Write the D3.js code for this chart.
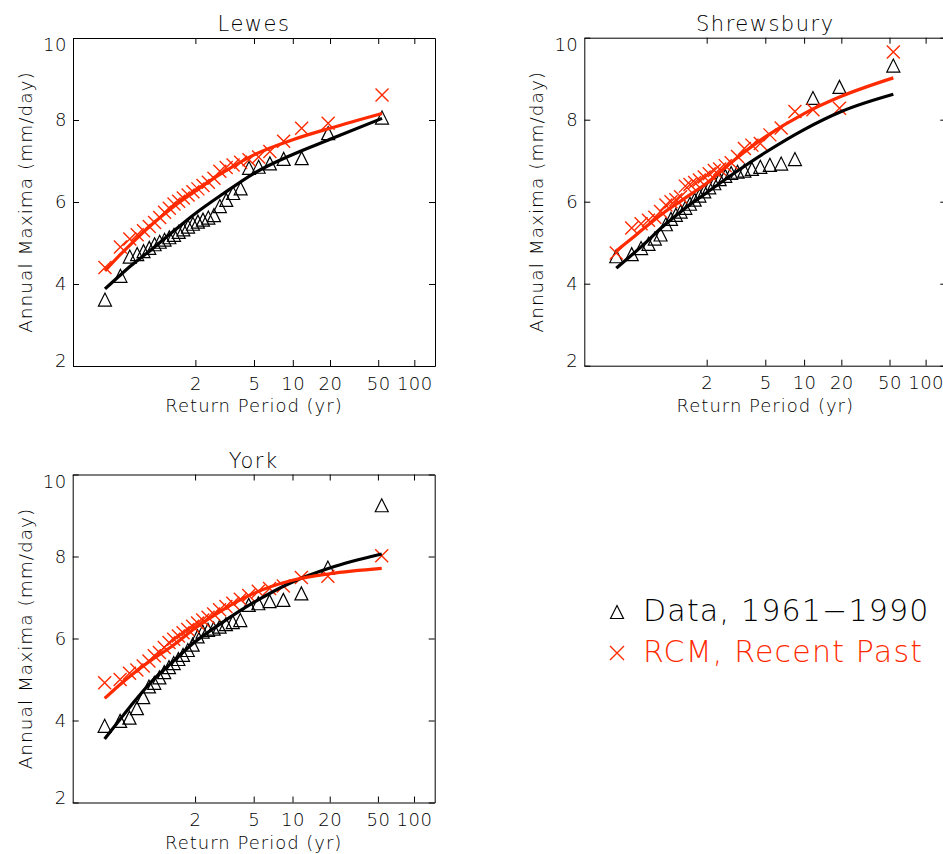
<!DOCTYPE html>
<html>
<head>
<meta charset="utf-8">
<script src="https://cdn.jsdelivr.net/npm/d3@7"></script>
<style>
  body { margin: 0; background: #fff; }
  svg { display: block; font-family: "DejaVu Sans", sans-serif; font-weight: 200; }
  .axis path, .axis line { stroke: #000; stroke-width: 1; }
  .axis text { font-family: "DejaVu Sans", sans-serif; font-weight: 200; font-size: 18px; fill: #000; letter-spacing: 0.5px; }
</style>
</head>
<body>
<script>
//return periods of the 30 ranked annual maxima (plotting positions)
var returnPeriods = [1.019, 1.055, 1.093, 1.134, 1.178, 1.226, 1.278, 1.335, 1.397, 1.465,
  1.540, 1.623, 1.715, 1.819, 1.936, 2.069, 2.221, 2.398, 2.606, 2.852,
  3.151, 3.519, 3.984, 4.591, 5.417, 6.605, 8.461, 11.77, 19.31, 53.79];

//return periods where the fitted curves were read
var fitPeriods = [1.019, 1.055, 1.1, 1.25, 1.5, 2, 3, 5, 10, 20, 53.79];

var lewesData = [3.62, 4.20, 4.67, 4.73, 4.80, 4.88, 4.97, 5.03, 5.08, 5.14, 5.20, 5.27, 5.33, 5.40, 5.47,
  5.52, 5.57, 5.62, 5.68, 5.90, 6.05, 6.22, 6.33, 6.83, 6.86, 6.94, 7.05, 7.07, 7.68, 8.06];
var lewesRcm = [4.40, 4.90, 5.10, 5.20, 5.30, 5.40, 5.50, 5.62, 5.75, 5.85, 5.95, 6.02, 6.10, 6.17, 6.25,
  6.32, 6.40, 6.48, 6.58, 6.75, 6.84, 6.90, 6.97, 7.03, 7.10, 7.23, 7.48, 7.80, 7.92, 8.61];
var lewesDataFit = [3.88, 4.22, 4.45, 4.85, 5.25, 5.72, 6.20, 6.70, 7.16, 7.53, 8.04];
var lewesRcmFit = [4.32, 4.72, 4.98, 5.45, 5.85, 6.27, 6.72, 7.15, 7.52, 7.80, 8.16];

var shrewsburyData = [4.67, 4.72, 4.87, 4.97, 5.10, 5.20, 5.45, 5.58, 5.68, 5.76, 5.85, 5.95, 6.05, 6.15, 6.25,
  6.35, 6.45, 6.55, 6.63, 6.70, 6.73, 6.76, 6.80, 6.85, 6.90, 6.93, 7.04, 8.53, 8.80, 9.32];
var shrewsburyRcm = [4.75, 5.36, 5.46, 5.55, 5.62, 5.76, 5.92, 6.00, 6.05, 6.12, 6.38, 6.42, 6.47, 6.53, 6.60,
  6.68, 6.76, 6.80, 6.88, 6.95, 7.10, 7.30, 7.38, 7.42, 7.63, 7.80, 8.20, 8.24, 8.28, 9.65];
var shrewsburyDataFit = [4.38, 4.70, 4.93, 5.40, 5.80, 6.22, 6.70, 7.20, 7.76, 8.20, 8.62];
var shrewsburyRcmFit = [4.80, 5.10, 5.32, 5.72, 6.05, 6.45, 7.02, 7.58, 8.15, 8.57, 9.02];

var yorkData = [3.87, 3.99, 4.07, 4.30, 4.57, 4.83, 4.92, 5.05, 5.18, 5.30, 5.40, 5.50, 5.60, 5.72, 5.85,
  6.05, 6.17, 6.21, 6.24, 6.29, 6.35, 6.40, 6.45, 6.82, 6.86, 6.91, 6.94, 7.10, 7.73, 9.25];
var yorkRcm = [4.92, 5.00, 5.15, 5.23, 5.33, 5.45, 5.58, 5.66, 5.78, 5.90, 5.98, 6.06, 6.14, 6.22, 6.30,
  6.38, 6.45, 6.52, 6.60, 6.70, 6.78, 6.86, 6.96, 7.05, 7.15, 7.22, 7.28, 7.49, 7.52, 8.02];
var yorkDataFit = [3.55, 4.03, 4.36, 4.95, 5.40, 5.92, 6.40, 6.88, 7.38, 7.72, 8.06];
var yorkRcmFit = [4.54, 4.88, 5.10, 5.48, 5.80, 6.25, 6.70, 7.10, 7.42, 7.58, 7.71];

var xTickPeriods = [2, 5, 10, 20, 50, 100];
var yTicks = [2, 4, 6, 8, 10];

var legendLabels = ["Data, 1961\u22121990", "RCM, Recent Past"];
var red = "#ff2a00";

var svgH = { width: 943, height: 854 };
var plot = { width: 362, height: 328 };

var svg = d3.select("body").append("svg")
    .attr("width", svgH.width)
    .attr("height", svgH.height);

//gumbel reduced variate of a return period
function gumbel(T) {
  return -Math.log(-Math.log(1 - 1 / T));
}

var x = d3.scaleLinear().domain([-2, 5]).range([0, plot.width]);
var y = d3.scaleLinear().domain([2, 10]).range([plot.height, 0]);

var line = d3.line()
    .x(function (d) { return x(gumbel(d.T)); })
    .y(function (d) { return y(d.v); })
    .curve(d3.curveMonotoneX);

function pair(periods, values) {
  return values.map(function (v, i) { return { T: periods[i], v: v }; });
}

function triangle(sel, s) {
  sel.append("path")
    .attr("d", "M" + (-s) + "," + s + "L0," + (-s) + "L" + s + "," + s + "Z")
    .attr("fill", "none")
    .attr("stroke", "#000")
    .attr("stroke-width", 1.2);
}

function cross(sel, s) {
  sel.append("path")
    .attr("d", "M" + (-s) + "," + (-s) + "L" + s + "," + s + "M" + (-s) + "," + s + "L" + s + "," + (-s))
    .attr("fill", "none")
    .attr("stroke", red)
    .attr("stroke-width", 1.4);
}

function drawPanel(left, top, title, obs, rcm, obsFit, rcmFit) {
  var g = svg.append("g").attr("transform", "translate(" + left + "," + top + ")");

  //axes on all four sides, ticks pointing inwards
  var gY = g.append("g").attr("class", "axis")
      .call(d3.axisLeft(y).tickValues(yTicks).tickSize(-6).tickSizeOuter(0).tickPadding(6));
  gY.selectAll("text").attr("dy", function (d) {
    if (d === 10) return "0.72em";
    if (d === 2) return "0.05em";
    return "0.32em";
  });
  g.append("g").attr("class", "axis")
      .attr("transform", "translate(" + plot.width + ",0)")
      .call(d3.axisRight(y).tickValues(yTicks).tickSize(-6).tickSizeOuter(0).tickFormat(""));
  g.append("g").attr("class", "axis")
      .attr("transform", "translate(0," + plot.height + ")")
      .call(d3.axisBottom(x).tickValues(xTickPeriods.map(gumbel)).tickSize(-6).tickSizeOuter(0).tickPadding(11)
        .tickFormat(function (d, i) { return xTickPeriods[i]; }));
  g.append("g").attr("class", "axis")
      .call(d3.axisTop(x).tickValues(xTickPeriods.map(gumbel)).tickSize(-6).tickSizeOuter(0).tickFormat(""));

  g.append("text")
    .attr("x", plot.width / 2)
    .attr("y", -7)
    .attr("text-anchor", "middle")
    .style("font-size", "21px")
    .style("letter-spacing", "1.5px")
    .text(title);

  g.append("text")
    .attr("x", plot.width / 2)
    .attr("y", plot.height + 46)
    .attr("text-anchor", "middle")
    .style("font-size", "18px")
    .style("letter-spacing", "1px")
    .text("Return Period (yr)");

  g.append("text")
    .attr("transform", "translate(-41," + (plot.height / 2) + ") rotate(-90)")
    .attr("text-anchor", "middle")
    .style("font-size", "18.5px")
    .style("letter-spacing", "1px")
    .text("Annual Maxima (mm/day)");

  //markers
  g.selectAll(".tri")
    .data(pair(returnPeriods, obs))
    .enter().append("g")
      .attr("class", "tri")
      .attr("transform", function (d) { return "translate(" + x(gumbel(d.T)) + "," + y(d.v) + ")"; })
      .each(function () { triangle(d3.select(this), 6.5); });

  g.selectAll(".crs")
    .data(pair(returnPeriods, rcm))
    .enter().append("g")
      .attr("class", "crs")
      .attr("transform", function (d) { return "translate(" + x(gumbel(d.T)) + "," + y(d.v) + ")"; })
      .each(function () { cross(d3.select(this), 6.5); });

  //fitted curves
  g.append("path")
    .datum(pair(fitPeriods, obsFit))
    .attr("d", line)
    .attr("fill", "none")
    .attr("stroke", "#000")
    .attr("stroke-width", 3.2);

  g.append("path")
    .datum(pair(fitPeriods, rcmFit))
    .attr("d", line)
    .attr("fill", "none")
    .attr("stroke", red)
    .attr("stroke-width", 3.2);
}

drawPanel(73, 38, "Lewes", lewesData, lewesRcm, lewesDataFit, lewesRcmFit);
drawPanel(584.3, 37.7, "Shrewsbury", shrewsburyData, shrewsburyRcm, shrewsburyDataFit, shrewsburyRcmFit);
drawPanel(72.7, 474.5, "York", yorkData, yorkRcm, yorkDataFit, yorkRcmFit);

//legend
var legend = svg.append("g").attr("transform", "translate(617,612)");
triangle(legend.append("g"), 6.5);
cross(legend.append("g").attr("transform", "translate(0,41)"), 7);
legend.append("text")
  .attr("x", 26).attr("y", 9)
  .style("font-size", "30px")
  .style("letter-spacing", "1.2px")
  .attr("fill", "#000")
  .text(legendLabels[0]);
legend.append("text")
  .attr("x", 26).attr("y", 50)
  .style("font-size", "30px")
  .style("letter-spacing", "1.2px")
  .attr("fill", red)
  .text(legendLabels[1]);
</script>
</body>
</html>
